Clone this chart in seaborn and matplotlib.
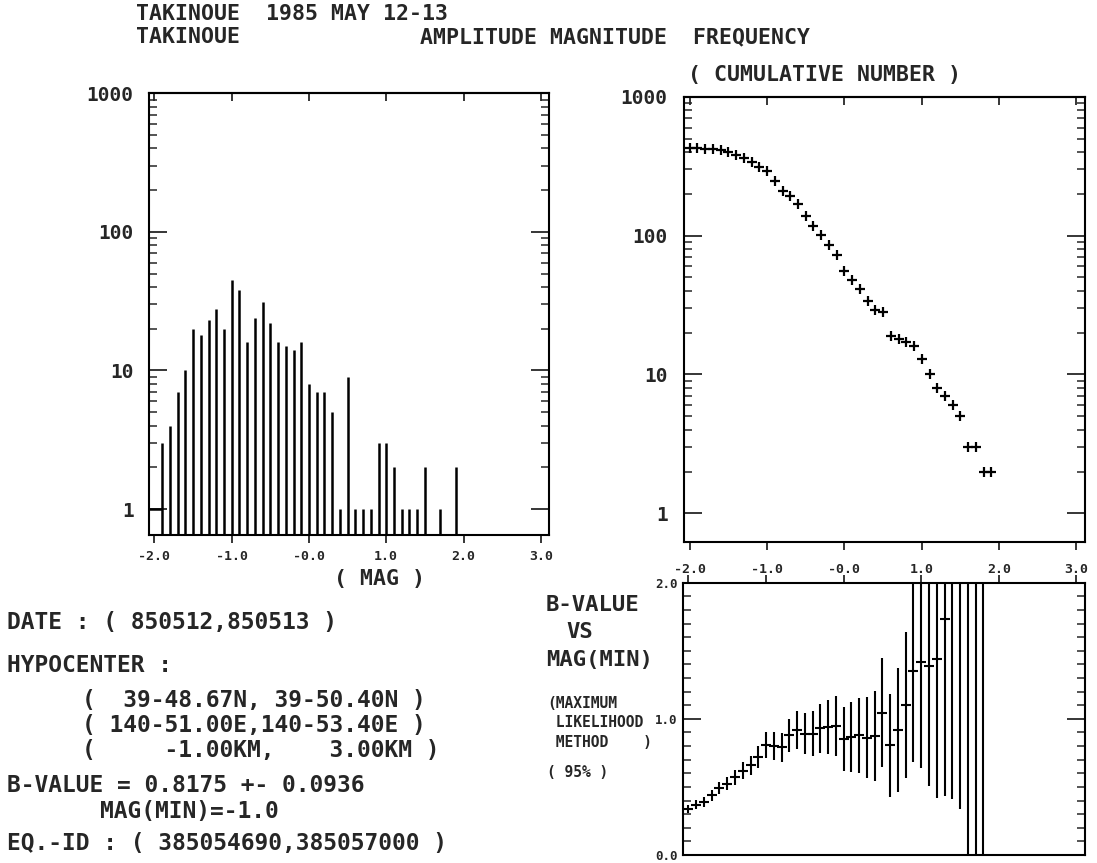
import numpy as np
import matplotlib
matplotlib.use("Agg")
import matplotlib.pyplot as plt
from matplotlib.ticker import FixedLocator, NullFormatter, NullLocator
import seaborn as sns

# ---------------- data ----------------
mags = [-2.0, -1.9, -1.8, -1.7, -1.6, -1.5, -1.4, -1.3, -1.2, -1.1,
        -1.0, -0.9, -0.8, -0.7, -0.6, -0.5, -0.4, -0.3, -0.2, -0.1,
        0.0, 0.1, 0.2, 0.3, 0.4, 0.5, 0.6, 0.7, 0.8, 0.9,
        1.0, 1.1, 1.2, 1.3, 1.4, 1.5, 1.6, 1.7, 1.8, 1.9]
counts = [1, 3, 4, 7, 10, 20, 18, 23, 28, 20,
          45, 38, 16, 24, 31, 22, 16, 15, 14, 16,
          8, 7, 7, 5, 1, 9, 1, 1, 1, 3,
          3, 2, 1, 1, 1, 2, 0, 1, 0, 2]
cum_counts = [427, 426, 423, 419, 412, 402, 382, 364, 341, 313,
              293, 248, 210, 194, 170, 139, 117, 101, 86, 72,
              56, 48, 41, 34, 29, 28, 19, 18, 17, 16,
              13, 10, 8, 7, 6, 5, 3, 3, 2, 2]
b_mags = [-2.0, -1.9, -1.8, -1.7, -1.6, -1.5, -1.4, -1.3, -1.2, -1.1,
          -1.0, -0.9, -0.8, -0.7, -0.6, -0.5, -0.4, -0.3, -0.2, -0.1,
          0.0, 0.1, 0.2, 0.3, 0.4, 0.5, 0.6, 0.7, 0.8, 0.9,
          1.0, 1.1, 1.2, 1.3, 1.4, 1.5, 1.6, 1.7, 1.8]
b_values = [0.34, 0.37, 0.39, 0.44, 0.49, 0.525, 0.57, 0.62, 0.66, 0.72,
            0.81, 0.80, 0.79, 0.88, 0.915, 0.89, 0.89, 0.93, 0.94, 0.945,
            0.855, 0.867, 0.88, 0.862, 0.871, 1.044, 0.806, 0.92, 1.10, 1.35,
            1.42, 1.39, 1.44, 1.73, 2.2, 2.4, 2.6, 3.0, 3.4]
b_errors = [0.03, 0.035, 0.035, 0.04, 0.045, 0.05, 0.055, 0.06, 0.07, 0.08,
            0.094, 0.10, 0.105, 0.12, 0.14, 0.15, 0.165, 0.18, 0.20, 0.22,
            0.235, 0.26, 0.275, 0.30, 0.33, 0.40, 0.38, 0.455, 0.535, 0.67,
            0.78, 0.88, 1.02, 1.30, 1.79, 2.06, 2.8, 3.4, 3.8]
x_ticks = [-2, -1, 0, 1, 2, 3]
x_ticklabels = ['-2.0', '-1.0', '-0.0', '1.0', '2.0', '3.0']
log_ticks = [1, 10, 100, 1000]
log_ticklabels = ['1', '10', '100', '1000']
b_ticks = [0.0, 1.0, 2.0]
b_ticklabels = ['0.0', '1.0', '2.0']

# ---------------- style ----------------
sns.set_style("white")
plt.rcParams['font.family'] = ['DejaVu Sans Mono', 'DejaVu Sans']
plt.rcParams['font.weight'] = 'bold'
plt.rcParams['axes.linewidth'] = 1.5
plt.rcParams['axes.edgecolor'] = 'black'

W, H = 1097, 863
fig = plt.figure(figsize=(W / 100, H / 100), dpi=100)
fig.patch.set_facecolor('white')


def rect(l, t, r, b):
    return [l / W, 1 - b / H, (r - l) / W, (b - t) / H]


ax1 = fig.add_axes(rect(149, 93.3, 549.3, 535))
ax2 = fig.add_axes(rect(684.3, 96.7, 1085, 541.7))
ax3 = fig.add_axes(rect(683, 582.7, 1085, 855))

XL = (-2.07, 3.11)
minor_log = [k * 10 ** e for e in range(0, 3) for k in range(2, 10)]

# ---------------- histogram ----------------
m = np.array(mags)
c = np.array(counts)
y_lo1 = 0.65
ax1.set_yscale('log')
ax1.set_xlim(*XL)
ax1.set_ylim(y_lo1, 1000)
keep = c[1:] > 0
ax1.vlines(m[1:][keep], y_lo1, c[1:][keep], color='black', lw=1.8)
ax1.hlines(c[0], XL[0], m[1], color='black', lw=1.8)

# ---------------- cumulative ----------------
ax2.set_yscale('log')
ax2.set_xlim(*XL)
ax2.set_ylim(0.625, 1000)
sns.scatterplot(x=mags, y=cum_counts, marker='+', s=45, color='black',
                linewidth=1.6, ax=ax2, legend=False)

for ax, lpad, xpad in ((ax1, 11, 5), (ax2, 12, 9)):
    ax.set_yticks(log_ticks)
    ax.set_yticklabels(log_ticklabels, fontsize=14, fontweight='bold')
    ax.yaxis.set_minor_locator(FixedLocator(minor_log))
    ax.yaxis.set_minor_formatter(NullFormatter())
    ax.tick_params(axis='y', which='major', direction='in', length=13, width=1.3,
                   left=True, right=True, pad=lpad)
    ax.tick_params(axis='y', which='minor', direction='in', length=6, width=1.1,
                   left=True, right=True)
    ax.set_xticks(x_ticks)
    ax.set_xticklabels(x_ticklabels, fontsize=9.5)
    ax.xaxis.set_minor_locator(NullLocator())
    ax.tick_params(axis='x', which='major', direction='out', length=6, width=1.3,
                   bottom=True, top=False, pad=xpad)
    sec = ax.secondary_xaxis('top')
    sec.set_xticks(x_ticks)
    sec.tick_params(direction='in', length=6, width=1.3, labeltop=False)
    sec.spines['top'].set_linewidth(1.5)
    ax.set_xlabel('')
    ax.set_ylabel('')

# ---------------- b-value ----------------
ax3.set_xlim(*XL)
ax3.set_ylim(0, 2.0)
ax3.errorbar(b_mags, b_values, yerr=b_errors, fmt='none', ecolor='black',
             elinewidth=1.5, capsize=0)
sns.scatterplot(x=b_mags, y=b_values, marker='_', s=50, color='black',
                linewidth=1.5, ax=ax3, legend=False)
ax3.set_yticks(b_ticks)
ax3.set_yticklabels(b_ticklabels, fontsize=9, fontweight='bold')
ax3.yaxis.set_minor_locator(FixedLocator([k / 10 for k in range(1, 20) if k != 10]))
ax3.tick_params(axis='y', which='major', direction='in', length=13, width=1.3,
                left=True, right=True, pad=4)
ax3.tick_params(axis='y', which='minor', direction='in', length=6, width=1.1,
                left=True, right=True)
ax3.set_xticks(x_ticks)
ax3.xaxis.set_minor_locator(NullLocator())
ax3.tick_params(axis='x', which='major', direction='out', length=6, width=1.3,
                top=True, bottom=False, labeltop=False, labelbottom=False)
ax3.set_xlabel('')
ax3.set_ylabel('')

# ---------------- texts ----------------
BIG = 16.5
MID = 15.5
SMALL = 10.5


def ftext(x, y, s, size=BIG, **kw):
    fig.text(x / W, 1 - y / H, s, fontsize=size, va='center',
             ha=kw.pop('ha', 'left'), fontweight='bold', **kw)


ftext(136, 14, 'TAKINOUE  1985 MAY 12-13', size=MID)
ftext(136, 37, 'TAKINOUE', size=MID)
ftext(420, 37, 'AMPLITUDE MAGNITUDE  FREQUENCY', size=MID)
ftext(688, 75, '( CUMULATIVE NUMBER )', size=MID)
ftext(380, 579, '( MAG )', size=MID, ha='center')

ftext(7, 622, 'DATE : ( 850512,850513 )')
ftext(7, 665, 'HYPOCENTER :')
ftext(82, 700, '(  39-48.67N, 39-50.40N )')
ftext(82, 725, '( 140-51.00E,140-53.40E )')
ftext(82, 750, '(     -1.00KM,    3.00KM )')
ftext(7, 785, 'B-VALUE = 0.8175 +- 0.0936')
ftext(100, 811, 'MAG(MIN)=-1.0')
ftext(7, 843, 'EQ.-ID : ( 385054690,385057000 )')

ftext(546, 605, 'B-VALUE', size=16)
ftext(566, 632, 'VS', size=16)
ftext(546, 660, 'MAG(MIN)', size=16)
ftext(547, 703, '(MAXIMUM', size=SMALL)
ftext(547, 722, ' LIKELIHOOD', size=SMALL)
ftext(547, 742, ' METHOD    )', size=SMALL)
ftext(547, 772, '( 95% )', size=SMALL)

fig.savefig('out.png', dpi=100, facecolor='white')
